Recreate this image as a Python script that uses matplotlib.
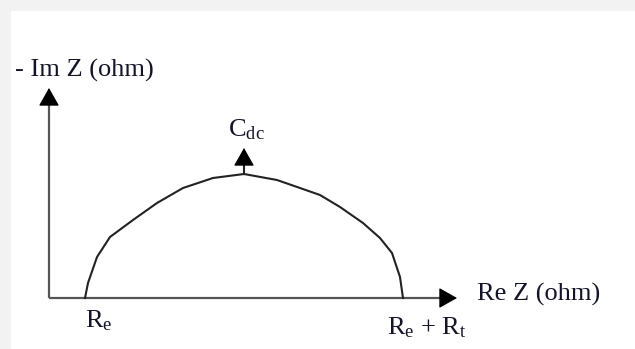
import matplotlib
matplotlib.use("Agg")
import matplotlib.pyplot as plt
from matplotlib.patches import Rectangle

plt.rcParams['font.family'] = ['Liberation Serif', 'DejaVu Serif']
plt.rcParams['mathtext.fontset'] = 'custom'
plt.rcParams['mathtext.rm'] = 'Liberation Serif'
plt.rcParams['mathtext.it'] = 'Liberation Serif:italic'

# Nyquist sketch of a Randles cell, arbitrary units
re_z = [36, 39, 48, 61, 84, 108, 134, 164, 195, 228, 251, 271, 291, 314, 331, 343, 351, 354]
im_z = [0, 15, 41, 61, 78, 95, 110, 120, 124, 118, 110, 103, 91, 75, 60, 45, 21, 0]

r_e = 36          # electrolyte resistance
r_e_rt = 354      # Re + Rt
peak_re = 195     # top of the semicircle (Cdc)
peak_im = 124

x_label = "Re Z (ohm)"
y_label = "- Im Z (ohm)"
peak_label = r"C$_{\mathrm{dc}}$"
lo_label = r"R$_{\mathrm{e}}$"
hi_label = r"R$_{\mathrm{e}}$ + R$_{\mathrm{t}}$"

W, H = 635, 349
ox, oy = 49, 298   # origin in pixels

fig = plt.figure(figsize=(W / 100, H / 100), dpi=100, facecolor='#f2f2f2')
ax = fig.add_axes([0, 0, 1, 1])
ax.set_axis_off()
ax.set_xlim(-ox, W - ox)
ax.set_ylim(oy - H, oy)
ax.patch.set_alpha(0)
ax.add_patch(Rectangle((11 / W, 0), 1, (H - 11) / H, transform=fig.transFigure,
                       facecolor='white', edgecolor='none', zorder=-10))

axis_col = '#555555'
x_end, y_end = 408, 210
head_len = 16


def head(x0, y0, x1, y1):
    ax.annotate('', xy=(x1, y1), xytext=(x0, y0),
                arrowprops=dict(arrowstyle='-|>,head_length=1.15,head_width=0.65',
                                mutation_scale=10, color='black', lw=0.8,
                                shrinkA=0, shrinkB=0))


# axes
ax.plot([0, x_end - head_len], [0, 0], color=axis_col, lw=1.6, solid_capstyle='butt')
ax.plot([0, 0], [0, y_end - head_len], color=axis_col, lw=1.6, solid_capstyle='butt')
head(x_end - head_len, 0, x_end, 0)
head(0, y_end - head_len, 0, y_end)

# semicircle
ax.plot(re_z, im_z, color='#222222', lw=1.5, solid_joinstyle='round')

# Cdc marker arrow
ax.plot([peak_re, peak_re], [peak_im, 136], color='#222222', lw=1.5)
head(peak_re, 136, peak_re, 150)

tc = '#141428'
fs = 19
ax.text(-34, 221, y_label, fontsize=fs, color=tc, va='baseline', ha='left')
ax.text(428, -3, x_label, fontsize=fs, color=tc, va='baseline', ha='left')
ax.text(179, 162, peak_label, fontsize=fs, color=tc, va='baseline', ha='left')
ax.text(r_e, -29, lo_label, fontsize=fs, color=tc, va='baseline', ha='left')
ax.text(r_e_rt - 16, -36, hi_label, fontsize=fs, color=tc, va='baseline', ha='left')

fig.savefig('out.png', dpi=100, facecolor=fig.get_facecolor())
